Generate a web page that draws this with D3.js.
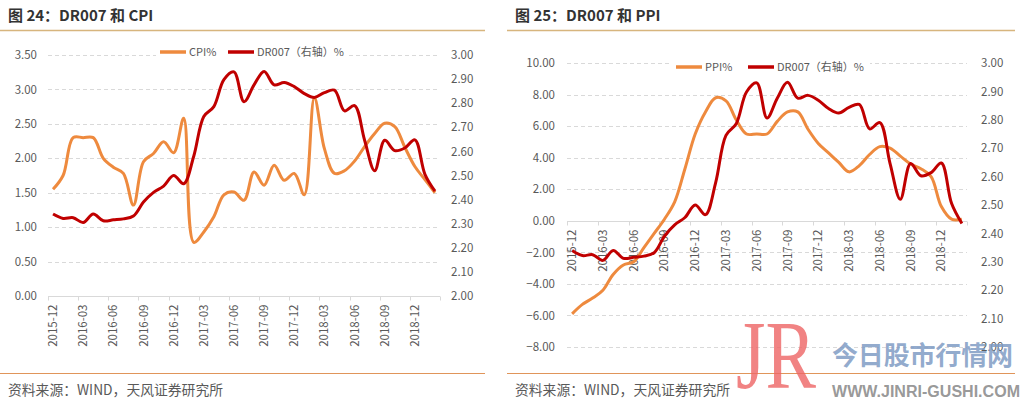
<!DOCTYPE html>
<html><head><meta charset="utf-8">
<script src="https://cdn.jsdelivr.net/npm/d3@7"></script>
<style>
html,body{margin:0;padding:0;background:#fff;}
svg{display:block;font-family:"Noto Sans CJK SC","Noto Sans",sans-serif;}
</style></head>
<body>
<svg id="c" width="1023" height="403"></svg>
<script>
// ---------- data ----------
const months = ["2015-12","2016-01","2016-02","2016-03","2016-04","2016-05","2016-06","2016-07","2016-08","2016-09","2016-10","2016-11","2016-12",
"2017-01","2017-02","2017-03","2017-04","2017-05","2017-06","2017-07","2017-08","2017-09","2017-10","2017-11","2017-12",
"2018-01","2018-02","2018-03","2018-04","2018-05","2018-06","2018-07","2018-08","2018-09","2018-10","2018-11","2018-12",
"2019-01","2019-02"];
const tickMonths = ["2015-12","2016-03","2016-06","2016-09","2016-12","2017-03","2017-06","2017-09","2017-12","2018-03","2018-06","2018-09","2018-12"];
const cpi = [1.55,1.75,2.3,2.3,2.3,2.0,1.87,1.78,1.32,1.95,2.07,2.24,2.08,2.58,0.78,0.93,1.15,1.47,1.51,1.39,1.8,1.61,1.9,1.68,1.78,1.47,2.88,2.14,1.78,1.82,1.96,2.17,2.36,2.51,2.46,2.16,1.88,1.69,1.5];
const ppi = [-5.9,-5.3,-4.9,-4.4,-3.4,-2.8,-2.6,-1.7,-0.8,0.1,1.2,3.3,5.5,6.9,7.8,7.6,6.4,5.5,5.5,5.5,6.3,6.9,6.9,5.8,4.9,4.3,3.7,3.1,3.5,4.2,4.7,4.6,4.1,3.6,3.3,2.8,0.9,0.1,0.1];
const dr007 = [2.34,2.322,2.325,2.305,2.34,2.312,2.316,2.32,2.332,2.39,2.43,2.456,2.5,2.466,2.58,2.745,2.786,2.898,2.93,2.806,2.876,2.932,2.876,2.886,2.869,2.84,2.824,2.844,2.854,2.768,2.79,2.646,2.52,2.646,2.603,2.614,2.648,2.505,2.435];
const cpiTicks = [0,0.5,1,1.5,2,2.5,3,3.5];
const ppiTicks = [-8,-6,-4,-2,0,2,4,6,8,10];
const drTicks = [2.0,2.1,2.2,2.3,2.4,2.5,2.6,2.7,2.8,2.9,3.0];
const titles = ["图 24：DR007 和 CPI","图 25：DR007 和 PPI"];
const legendNames = [["CPI%","DR007（右轴）%"],["PPI%","DR007（右轴）%"]];
const sourceText = "资料来源：WIND，天风证券研究所";

// ---------- drawing ----------
const svg = d3.select("#c");
svg.append("rect").attr("width",1023).attr("height",403).attr("fill","#fff");
const ORANGE = "#EE8A3E", RED = "#C00000", GRID = "#D9D9D9", TXT = "#595959";
const fmt = d3.format(".2f");
const FONT = "'Noto Sans CJK SC','Noto Sans',sans-serif";

function panel(o){
  const g = svg.append("g");
  // title
  g.append("text").attr("x",o.x0+8).attr("y",21).attr("font-size",15).attr("font-weight","bold")
    .attr("fill","#333").text(o.title);
  g.append("line").attr("x1",o.x0).attr("x2",o.x0+o.w).attr("y1",30.5).attr("y2",30.5)
    .attr("stroke","#D7B57E").attr("stroke-width",1.3);
  g.append("line").attr("x1",o.x0).attr("x2",o.x0+o.w).attr("y1",373.5).attr("y2",373.5)
    .attr("stroke","#E0955A").attr("stroke-width",1.2);
  g.append("text").attr("x",o.x0+8).attr("y",395).attr("font-size",13.8).attr("fill",TXT).text(sourceText);

  const x = d3.scaleBand().domain(months).range([o.l,o.r]).padding(0);
  const cx = d => x(d)+x.bandwidth()/2;
  const yL = d3.scaleLinear().domain(o.lDom).range([o.b,o.t]);
  const yR = d3.scaleLinear().domain([2,3]).range([o.b,o.t]);

  // grid
  g.append("g").selectAll("line").data(o.lTicks.filter(v=>v!==0)).join("line")
    .attr("x1",o.l).attr("x2",o.r).attr("y1",d=>Math.round(yL(d))+0.5).attr("y2",d=>Math.round(yL(d))+0.5)
    .attr("stroke",GRID).attr("stroke-dasharray","4,3");

  // left axis
  const ax = g.append("g").attr("transform",`translate(${o.l},0)`)
    .call(d3.axisLeft(yL).tickValues(o.lTicks).tickFormat(fmt).tickSize(0).tickPadding(o.lPad));
  ax.select(".domain").remove();
  ax.selectAll("text").attr("font-size",11.5).attr("fill",TXT).style("font-family",FONT);
  // right axis
  const ar = g.append("g").attr("transform",`translate(${o.r},0)`)
    .call(d3.axisRight(yR).tickValues(drTicks).tickFormat(fmt).tickSize(0).tickPadding(o.rPad));
  ar.select(".domain").remove();
  ar.selectAll("text").attr("font-size",11.5).attr("fill",TXT).style("font-family",FONT);

  // x axis
  const y0 = Math.round(yL(0))+0.5;
  g.append("line").attr("x1",o.l).attr("x2",o.r).attr("y1",y0).attr("y2",y0).attr("stroke",GRID);
  const tickX = tickMonths.map(m=>x(m)).concat([o.r]);
  g.append("g").selectAll("line").data(tickX).join("line")
    .attr("x1",d=>Math.round(d)+0.5).attr("x2",d=>Math.round(d)+0.5).attr("y1",y0).attr("y2",y0+4).attr("stroke",GRID);
  g.append("g").selectAll("text").data(tickMonths).join("text")
    .attr("transform",d=>`translate(${cx(d)},${y0+8}) rotate(-90)`)
    .attr("text-anchor","end").attr("dy","0.35em").attr("font-size",11.5).attr("fill",TXT).text(d=>d);

  // legend
  const L = o.legend;
  g.append("rect").attr("x",L.x-4).attr("y",L.y-8).attr("width",L.w).attr("height",15).attr("fill","#fff");
  g.append("line").attr("x1",L.x).attr("x2",L.x+26).attr("y1",L.y).attr("y2",L.y).attr("stroke",ORANGE).attr("stroke-width",3.5);
  g.append("text").attr("x",L.x+29).attr("y",L.y+4).attr("font-size",11).attr("fill",TXT).text(o.names[0]);
  g.append("line").attr("x1",L.x2).attr("x2",L.x2+26).attr("y1",L.y).attr("y2",L.y).attr("stroke",RED).attr("stroke-width",3.5);
  g.append("text").attr("x",L.x2+29).attr("y",L.y+4).attr("font-size",11).attr("fill",TXT).text(o.names[1]);

  // lines
  const lineL = d3.line().x((d,i)=>cx(months[i])).y(d=>yL(d)).curve(d3.curveCatmullRom.alpha(0.5));
  const lineR = d3.line().x((d,i)=>cx(months[i])).y(d=>yR(d)).curve(d3.curveCatmullRom.alpha(0.5));
  g.append("path").datum(o.lData).attr("d",lineL).attr("fill","none").attr("stroke",ORANGE).attr("stroke-width",3).attr("stroke-linejoin","round");
  g.append("path").datum(dr007).attr("d",lineR).attr("fill","none").attr("stroke",RED).attr("stroke-width",3).attr("stroke-linejoin","round");
}

panel({x0:0,w:485,title:titles[0],l:48,r:440,t:55,b:296,lDom:[0,3.5],lTicks:cpiTicks,lData:cpi,lPad:11,rPad:11,
  names:legendNames[0],legend:{x:160,x2:228,y:52,w:192}});
panel({x0:507,w:508,title:titles[1],l:567,r:967,t:63,b:347,lDom:[-8,10],lTicks:ppiTicks,lData:ppi,lPad:12,rPad:14,
  names:legendNames[1],legend:{x:676,x2:748,y:67,w:198}});

// watermark
const wm = svg.append("g");
wm.append("text").attr("x",736).attr("y",388).style("font-family","'Liberation Serif','DejaVu Serif',serif").attr("font-size",98)
  .attr("fill","#EE6464").attr("fill-opacity",0.8).attr("textLength",80).attr("lengthAdjust","spacingAndGlyphs").text("JR");
wm.append("text").attr("x",832).attr("y",365).attr("font-size",26).attr("font-weight","bold")
  .attr("fill","#7F9CC4").attr("fill-opacity",0.85).attr("textLength",181).text("今日股市行情网");
wm.append("text").attr("x",832).attr("y",397).style("font-family","'Liberation Sans',sans-serif").attr("font-size",16).attr("font-weight","bold")
  .attr("fill","#8C8C8C").attr("fill-opacity",0.9).attr("textLength",188).attr("lengthAdjust","spacingAndGlyphs").text("WWW.JINRI-GUSHI.COM");
</script>
</body></html>
